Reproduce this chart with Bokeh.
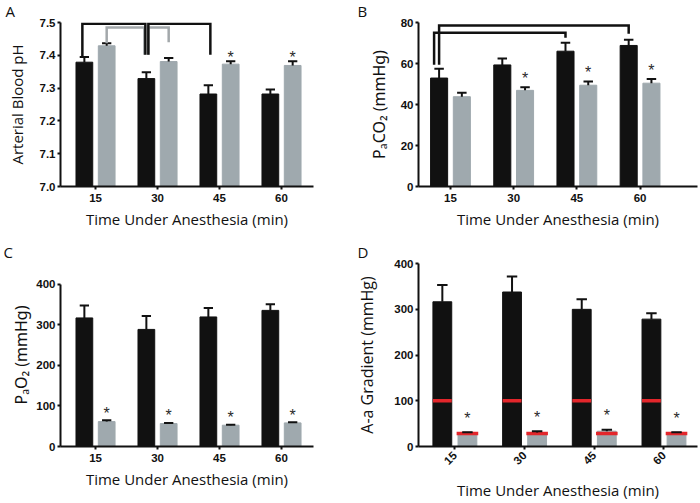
import math
import numpy as np
from bokeh.plotting import figure
from bokeh.models import Range1d, FixedTicker, NumeralTickFormatter
from bokeh.layouts import row, column
from bokeh.embed import file_html
from bokeh.resources import INLINE
from bokeh.core.properties import value

# ---------------- data ----------------
time_labels = ["15", "30", "45", "60"]

ph_ctrl = [7.379, 7.329, 7.282, 7.282]
ph_ctrl_sem = [0.016, 0.019, 0.027, 0.014]
ph_iso = [7.429, 7.381, 7.373, 7.369]
ph_iso_sem = [0.008, 0.011, 0.009, 0.013]
ph_sig = [False, False, True, True]

paco2_ctrl = [52.9, 59.3, 66.0, 68.8]
paco2_ctrl_sem = [4.5, 3.2, 4.1, 2.8]
paco2_iso = [43.8, 46.9, 49.4, 50.4]
paco2_iso_sem = [1.9, 1.5, 1.8, 2.0]
paco2_sig = [False, True, True, True]

pao2_ctrl = [316.8, 288.5, 319.2, 335.4]
pao2_ctrl_sem = [30.7, 33.1, 21.8, 15.3]
pao2_iso = [61.4, 56.6, 52.5, 58.2]
pao2_iso_sem = [3.2, 1.6, 0.8, 1.6]
pao2_sig = [True, True, True, True]

aa_ctrl = [316.3, 337.7, 299.8, 278.4]
aa_ctrl_sem = [36.5, 33.7, 22.2, 12.8]
aa_iso = [29.5, 30.5, 33.5, 29.5]
aa_iso_sem = [1.8, 3.0, 3.0, 1.8]
aa_sig = [True, True, True, True]
aa_normal_ctrl = [100, 100, 100, 100]
aa_normal_iso = [28.6, 28.6, 28.6, 28.6]

# comparison brackets: (left group, left series, right group, right series,
#                       top value, left leg end, right leg end, colour)
ph_brackets = [
    (0, "iso", 1, "ctrl", 7.485, 7.437, 7.402, "gray"),
    (1, "ctrl", 1, "iso", 7.485, 7.402, 7.440, "gray"),
    (0, "ctrl", 1, "ctrl", 7.496, 7.397, 7.402, "black"),
    (1, "ctrl", 2, "ctrl", 7.496, 7.402, 7.402, "black"),
]
paco2_brackets = [
    (0, "ctrl", 3, "ctrl", 78.5, 59.4, 74.5, "black"),
    (0, "ctrl", 2, "ctrl", 75.0, 59.4, 72.6, "black"),
]

# ---------------- style ----------------
BLACK = "#111111"
GRAY = "#9fa9ae"
BR_GRAY = "#a3a8ab"
RED = "#e3262b"
TITLE_FONT = "Open Sans"
TICK_FONT = "Liberation Sans"
OFFSET = 0.18
BAR_W = 0.27
CAP_HALF = 0.075


def panel(letter, letter_off, width, height, bl, br, bt, bb, xr, yr, ybounds,
          yticks, ylabel, ctrl, ctrl_sem, iso, iso_sem, sig, star_gap,
          brackets=(), nudges=(), rotate=False, fmt="0", normal=None,
          ylabel_standoff=10, ylabel_font=TITLE_FONT, ylabel_size="15px",
          xlabel_standoff=4):
    p = figure(width=width, height=height, output_backend="svg",
               toolbar_location=None, x_range=Range1d(*xr), y_range=Range1d(*yr),
               min_border_left=bl, min_border_right=br, min_border_top=bt,
               min_border_bottom=bb)
    p.outline_line_color = None
    p.xgrid.visible = False
    p.ygrid.visible = False
    fw = width - bl - br
    ppu = fw / (xr[1] - xr[0])

    # panel letter
    p.title.text = letter
    p.title.align = "left"
    p.title.vertical_align = "top"
    p.title.offset = letter_off
    p.title.standoff = 0
    p.title.text_font = TITLE_FONT
    p.title.text_font_size = "15px"
    p.title.text_font_style = "normal"
    p.title.text_color = BLACK

    g = np.arange(1, len(ctrl) + 1, dtype=float)
    xc = g - OFFSET
    xi = g + OFFSET
    base = yr[0]
    p.vbar(x=xc, top=ctrl, bottom=base, width=BAR_W, color=BLACK)
    p.vbar(x=xi, top=iso, bottom=base, width=BAR_W, color=GRAY)

    if normal is not None:
        nc, ni = normal
        p.segment(x0=xc - BAR_W / 2, x1=xc + BAR_W / 2, y0=nc, y1=nc,
                  color=RED, line_width=3.5)
        p.segment(x0=xi - BAR_W / 2 - 0.02, x1=xi + BAR_W / 2 + 0.02, y0=ni, y1=ni,
                  color=RED, line_width=3.5)

    for xs, v, s in ((xc, ctrl, ctrl_sem), (xi, iso, iso_sem)):
        v = np.array(v)
        top = v + np.array(s)
        p.segment(x0=xs, x1=xs, y0=v, y1=top, color=BLACK, line_width=2)
        p.segment(x0=xs - CAP_HALF, x1=xs + CAP_HALF, y0=top, y1=top,
                  color=BLACK, line_width=2)

    # significance stars
    iso_top = np.array(iso) + np.array(iso_sem)
    mask = np.array(sig)
    p.text(x=xi[mask], y=iso_top[mask], text=["*"] * int(mask.sum()),
           text_align="center", text_baseline="alphabetic",
           y_offset=4 - star_gap,
           text_font=value(TICK_FONT), text_font_size="16px",
           text_color="#2a2a2a")

    # brackets
    for k, b in enumerate(brackets):
        gl, sl, gr, sr, top, lend, rend, col = b
        nl, nr = nudges[k] if nudges else (0, 0)
        xl = gl + 1 + (-OFFSET if sl == "ctrl" else OFFSET) + nl / ppu
        xrr = gr + 1 + (-OFFSET if sr == "ctrl" else OFFSET) + nr / ppu
        p.multi_line(xs=[[xl, xl, xrr, xrr]], ys=[[lend, top, top, rend]],
                     line_color=BLACK if col == "black" else BR_GRAY,
                     line_width=2.5, line_join="miter")

    # axes
    for ax in (p.xaxis[0], p.yaxis[0]):
        ax.axis_line_width = 2
        ax.axis_line_color = BLACK
        ax.major_tick_line_width = 2
        ax.major_tick_line_color = BLACK
        ax.major_tick_out = 3
        ax.major_tick_in = 0
        ax.minor_tick_line_color = None
        ax.major_label_text_font = TICK_FONT
        ax.major_label_text_font_style = "bold"
        ax.major_label_text_font_size = "11.5px"
        ax.major_label_text_color = BLACK
        ax.axis_label_text_font_style = "normal"
        ax.axis_label_text_color = BLACK
    p.xaxis.axis_label_text_font = TITLE_FONT
    p.xaxis.axis_label_text_font_size = "15px"
    p.yaxis.axis_label_text_font = ylabel_font
    p.yaxis.axis_label_text_font_size = ylabel_size
    p.xaxis.ticker = FixedTicker(ticks=list(g))
    p.xaxis.major_label_overrides = {float(i + 1): t for i, t in enumerate(time_labels)}
    p.xaxis.axis_label = "Time Under Anesthesia (min)"
    p.xaxis.major_label_standoff = 4
    p.xaxis.axis_label_standoff = xlabel_standoff
    if rotate:
        p.xaxis.major_label_orientation = math.pi / 4
    p.yaxis.ticker = FixedTicker(ticks=yticks)
    p.yaxis.bounds = ybounds
    p.yaxis.formatter = NumeralTickFormatter(format=fmt)
    p.yaxis.axis_label = ylabel
    p.yaxis.major_label_standoff = 2
    p.yaxis.axis_label_standoff = ylabel_standoff
    return p


pA = panel("A", -55, 350, 240, 60, 37, 21, 54, (0.435, 4.516),
           (7.0, 7.5), (7.0, 7.5),
           [7.0, 7.1, 7.2, 7.3, 7.4, 7.5], "Arterial Blood pH",
           ph_ctrl, ph_ctrl_sem, ph_iso, ph_iso_sem, ph_sig, 8,
           brackets=ph_brackets, nudges=[(0, -2), (2, 0), (-2, -1), (2, 2)],
           fmt="0.0")
pB = panel("B", -61, 350, 240, 68, 3, 21, 54, (0.494, 4.909),
           (0, 80), (0, 80),
           [0, 20, 40, 60, 80], "PₐCO₂ (mmHg)",
           paco2_ctrl, paco2_ctrl_sem, paco2_iso, paco2_iso_sem, paco2_sig, 13,
           brackets=paco2_brackets, nudges=[(0, 0), (-5, 0)],
           ylabel_standoff=8, ylabel_font="Noto Sans", ylabel_size="16px")
pC = panel("C", -57, 350, 263, 60, 37, 23, 54, (0.435, 4.516),
           (0, 450.9), (0, 400),
           [0, 100, 200, 300, 400], "PₐO₂ (mmHg)",
           pao2_ctrl, pao2_ctrl_sem, pao2_iso, pao2_iso_sem, pao2_sig, 11,
           ylabel_standoff=1, ylabel_font="Noto Sans", ylabel_size="16px")
pD = panel("D", -61, 350, 263, 68, 3, 23, 54, (0.478, 4.481),
           (0, 400), (0, 400),
           [0, 100, 200, 300, 400], "A-a Gradient (mmHg)",
           aa_ctrl, aa_ctrl_sem, aa_iso, aa_iso_sem, aa_sig, 18,
           rotate=True, normal=(aa_normal_ctrl, aa_normal_iso),
           ylabel_standoff=13, ylabel_size="16px", xlabel_standoff=9)

layout = column(row(pA, pB), row(pC, pD))
open("out.html", "w").write(file_html(layout, INLINE))
